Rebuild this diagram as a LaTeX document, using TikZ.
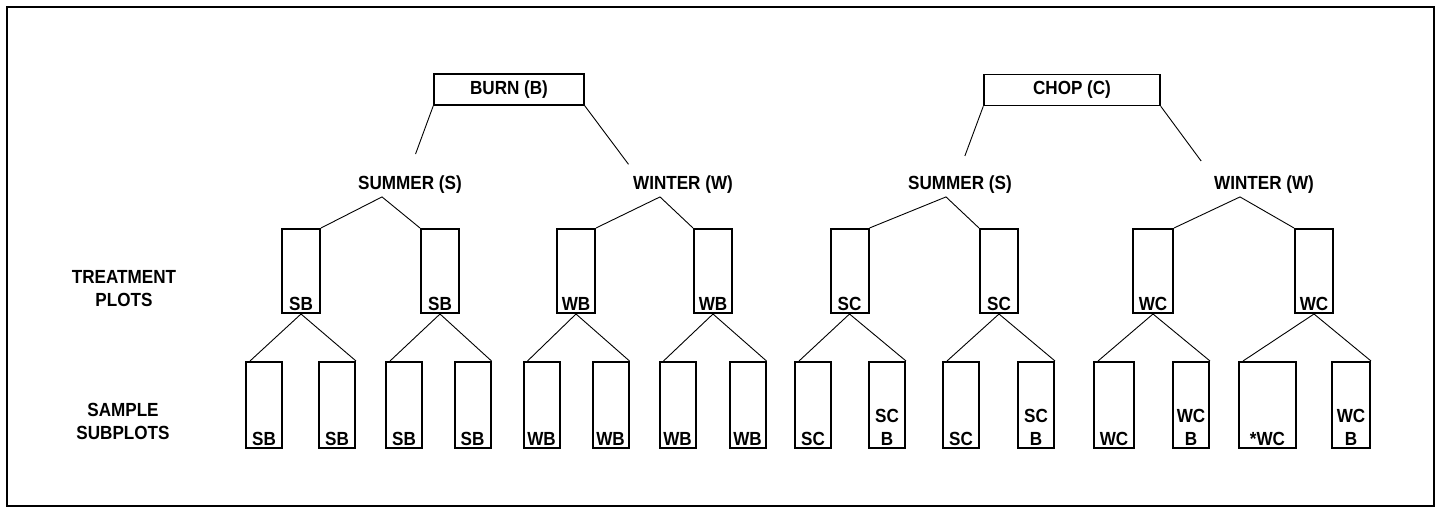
\documentclass[tikz,border=0pt]{standalone}
\usepackage{fontspec}
\setmainfont{Liberation Sans}[FakeStretch=0.9]
\begin{document}
\begin{tikzpicture}[x=0.5pt, y=-0.5pt,
    every node/.style={font=\bfseries\fontsize{9.5}{11.5}\selectfont},
    topbox/.style={rectangle, draw, line width=0.7pt, minimum width=75pt, minimum height=15pt},
    plotbox/.style={rectangle, draw, line width=1pt, minimum width=19pt, minimum height=42pt},
    subbox/.style={rectangle, draw, line width=1pt, minimum width=18pt, minimum height=43pt},
    tag/.style={anchor=south, inner sep=1.5pt, align=center},
    link/.style={line width=0.45pt}]
    \useasboundingbox (0,0) rectangle (1440,508);
    \draw[line width=1pt] (7,7) rectangle (1434,506);

    % Nodes
    \node (burn) [topbox] at (509,89.5) {BURN (B)};
    \node (chop) [topbox, minimum width=88pt] at (1072,90) {CHOP (C)};
    \node (sumB) at (410,185) {SUMMER (S)};
    \node (winB) at (683,185) {WINTER (W)};
    \node (sumC) at (960,185) {SUMMER (S)};
    \node (winC) at (1264,185) {WINTER (W)};

    \node (treat) [align=center] at (124,289) {TREATMENT\\PLOTS};
    \node (samp) [align=center] at (123,421) {SAMPLE\\SUBPLOTS};

    % Treatment plots
    \node (sb1) [plotbox, label={[tag]south:SB}] at (301,271) {};
    \node (sb2) [plotbox, label={[tag]south:SB}] at (440,271) {};
    \node (wb1) [plotbox, label={[tag]south:WB}] at (576,271) {};
    \node (wb2) [plotbox, label={[tag]south:WB}] at (713,271) {};
    \node (sc1) [plotbox, label={[tag]south:SC}] at (849.5,271) {};
    \node (sc2) [plotbox, label={[tag]south:SC}] at (999,271) {};
    \node (wc1) [plotbox, minimum width=20pt, label={[tag]south:WC}] at (1153,271) {};
    \node (wc2) [plotbox, label={[tag]south:WC}] at (1314,271) {};

    % Sample subplots
    \node (sb1a) [subbox, label={[tag]south:SB}] at (264,405) {};
    \node (sb1b) [subbox, label={[tag]south:SB}] at (337,405) {};
    \node (sb2a) [subbox, label={[tag]south:SB}] at (404,405) {};
    \node (sb2b) [subbox, label={[tag]south:SB}] at (472.5,405) {};
    \node (wb1a) [subbox, label={[tag]south:WB}] at (541.5,405) {};
    \node (wb1b) [subbox, label={[tag]south:WB}] at (610.5,405) {};
    \node (wb2a) [subbox, label={[tag]south:WB}] at (677.5,405) {};
    \node (wb2b) [subbox, label={[tag]south:WB}] at (747.5,405) {};
    \node (sc1a) [subbox, label={[tag]south:SC}] at (813,405) {};
    \node (sc1b) [subbox, label={[tag]south:SC\\B}] at (887,405) {};
    \node (sc2a) [subbox, label={[tag]south:SC}] at (961,405) {};
    \node (sc2b) [subbox, label={[tag]south:SC\\B}] at (1036,405) {};
    \node (wc1a) [subbox, minimum width=20pt, label={[tag]south:WC}] at (1114,405) {};
    \node (wc1b) [subbox, label={[tag]south:WC\\B}] at (1191,405) {};
    \node (wc2a) [subbox, minimum width=28.5pt, label={[tag]south:*WC}] at (1267.5,405) {};
    \node (wc2b) [subbox, minimum width=19pt, label={[tag]south:WC\\B}] at (1351,405) {};

    % Lines
    \draw[link, shorten >=8pt] (burn.south west) -- (sumB.north);
    \draw[link, shorten >=3pt] (burn.south east) -- ([xshift=3pt]winB.north west);
    \draw[link, shorten >=7pt] (chop.south west) -- (sumC.north);
    \draw[link, shorten >=5pt] (chop.south east) -- (winC.north west);

    \draw[link] (sb1.north east) -- ([xshift=-14pt,yshift=2pt]sumB.south) -- (sb2.north west);
    \draw[link] (wb1.north east) -- ([xshift=-11.5pt,yshift=2pt]winB.south) -- (wb2.north west);
    \draw[link] (sc1.north east) -- ([xshift=-7pt,yshift=2pt]sumC.south) -- (sc2.north west);
    \draw[link] (wc1.north east) -- ([xshift=-12pt,yshift=2pt]winC.south) -- (wc2.north west);

    \draw[link] ([xshift=2.5pt]sb1a.north west) -- (sb1.south) -- (sb1b.north east);
    \draw[link] ([xshift=2.5pt]sb2a.north west) -- (sb2.south) -- (sb2b.north east);
    \draw[link] ([xshift=2.5pt]wb1a.north west) -- (wb1.south) -- (wb1b.north east);
    \draw[link] ([xshift=2.5pt]wb2a.north west) -- (wb2.south) -- (wb2b.north east);
    \draw[link] ([xshift=2.5pt]sc1a.north west) -- (sc1.south) -- (sc1b.north east);
    \draw[link] ([xshift=2.5pt]sc2a.north west) -- (sc2.south) -- (sc2b.north east);
    \draw[link] ([xshift=2.5pt]wc1a.north west) -- (wc1.south) -- (wc1b.north east);
    \draw[link] ([xshift=2.5pt]wc2a.north west) -- (wc2.south) -- (wc2b.north east);
\end{tikzpicture}
\end{document}
